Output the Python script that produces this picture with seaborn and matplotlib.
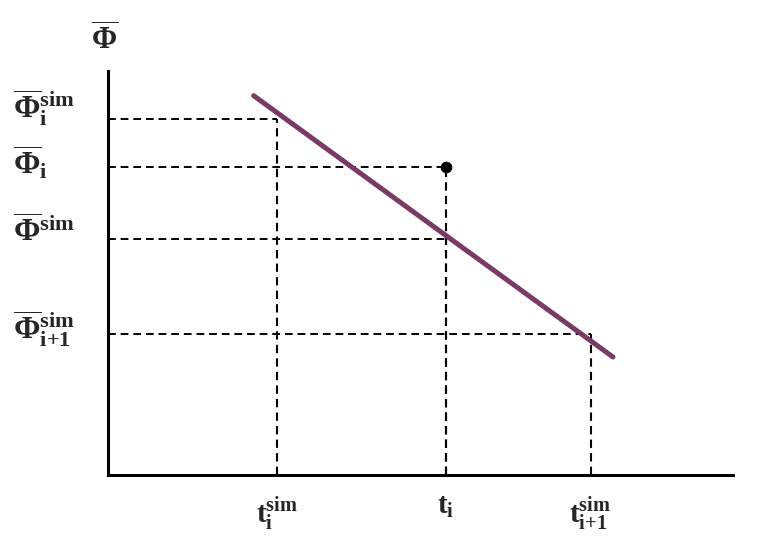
import matplotlib
matplotlib.use("Agg")
import matplotlib.pyplot as plt
import seaborn as sns
import pandas as pd

# data (arbitrary units)
x_ticks = [2.70, 5.40, 7.72]
x_labels = [r"$\mathbf{t}_{\mathbf{i}}^{\mathbf{sim}}$", r"$\mathbf{t}_{\mathbf{i}}$",
            r"$\mathbf{t}_{\mathbf{i{+}1}}^{\mathbf{sim}}$"]
y_ticks = [8.80, 7.62, 5.85, 3.49]
y_labels = [r"$\overline{\mathbf{\Phi}}_{\mathbf{i}}^{\mathbf{sim}}$",
            r"$\overline{\mathbf{\Phi}}_{\mathbf{i}}$",
            r"$\overline{\mathbf{\Phi}}^{\mathbf{sim}}$",
            r"$\overline{\mathbf{\Phi}}_{\mathbf{i{+}1}}^{\mathbf{sim}}$"]
# dashed guide corners: (x, y)
guide_x = [2.70, 5.40, 5.40, 7.72]
guide_y = [8.80, 7.62, 5.85, 3.49]
line_x = [2.33, 8.08]
line_y = [9.39, 2.92]
point_x = [5.40]
point_y = [7.62]

sns.set_theme(style="white")
plt.rcParams["mathtext.fontset"] = "custom"
plt.rcParams["mathtext.rm"] = "Liberation Serif"
plt.rcParams["mathtext.bf"] = "Liberation Serif:bold"
plt.rcParams["mathtext.it"] = "Liberation Serif:italic"
plt.rcParams["font.family"] = ["Liberation Serif", "DejaVu Sans"]

fig = plt.figure(figsize=(7.57, 5.38), dpi=100)
ax = fig.add_axes([108/757, 63/538, (733-108)/757, (475-71)/538])

for gx, gy in zip(guide_x, guide_y):
    ax.hlines(gy, 0, gx, colors="black", linestyles=(0, (4, 2.5)), linewidth=1.4)
    ax.vlines(gx, 0, gy, colors="black", linestyles=(0, (4, 2.5)), linewidth=1.5)

df_line = pd.DataFrame({"x": line_x, "y": line_y})
sns.lineplot(data=df_line, x="x", y="y", ax=ax, color="#7a3a66", linewidth=3.6)
df_pt = pd.DataFrame({"x": point_x, "y": point_y})
sns.scatterplot(data=df_pt, x="x", y="y", ax=ax, color="black", s=60, edgecolor="black", zorder=5)

ax.set_xlim(0, 10)
ax.set_ylim(0, 10)
ax.set_xticks(x_ticks)
ax.set_xticklabels(x_labels, fontsize=21)
ax.set_yticks(y_ticks)
ax.set_yticklabels([])
ax.tick_params(axis="both", length=0)
ax.tick_params(axis="x", pad=14)

# y labels placed at the tick values, offset to match the reference layout
y_offsets_px = [12, 4, 6, 5]
for yv, lab, dy in zip(y_ticks, y_labels, y_offsets_px):
    ax.annotate(lab, xy=(0, yv), xycoords=("axes fraction", "data"),
                xytext=(-95, dy), textcoords="offset pixels",
                ha="left", va="center", fontsize=23, annotation_clip=False)

ax.set_xlabel("")
ax.set_ylabel("")
fig.text(105/757, 1 - 40/538, r"$\overline{\mathbf{\Phi}}$", fontsize=22,
         ha="center", va="center")

for s in ["top", "right"]:
    ax.spines[s].set_visible(False)
for s in ["left", "bottom"]:
    ax.spines[s].set_color("black")
    ax.spines[s].set_linewidth(2.2)

fig.savefig("out.png", dpi=100)
